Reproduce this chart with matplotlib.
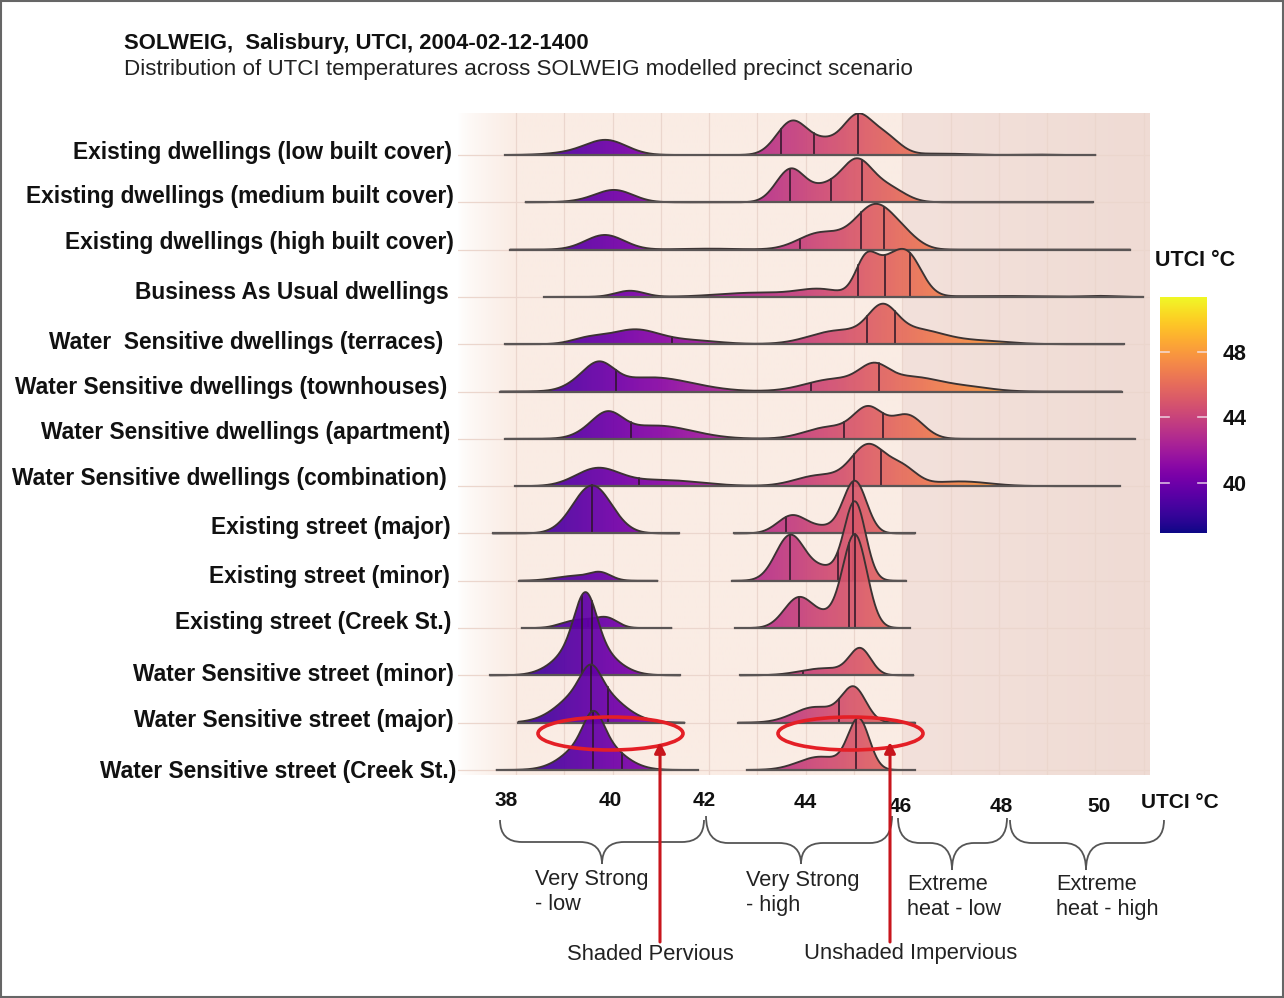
import numpy as np
import matplotlib
matplotlib.use("Agg")
import matplotlib.pyplot as plt
from matplotlib.patches import Polygon, Ellipse, PathPatch, Rectangle
from matplotlib.path import Path

# ---------------- data ----------------
scenarios = [
    "Existing dwellings (low built cover)",
    "Existing dwellings (medium built cover)",
    "Existing dwellings (high built cover)",
    "Business As Usual dwellings",
    "Water  Sensitive dwellings (terraces)",
    "Water Sensitive dwellings (townhouses)",
    "Water Sensitive dwellings (apartment)",
    "Water Sensitive dwellings (combination)",
    "Existing street (major)",
    "Existing street (minor)",
    "Existing street (Creek St.)",
    "Water Sensitive street (minor)",
    "Water Sensitive street (major)",
    "Water Sensitive street (Creek St.)",
]

# UTCI data range (min, max) of each modelled surface group, degC
data_ranges = [
    [(37.77, 50.00)],
    [(38.20, 49.95)],
    [(37.88, 50.72)],
    [(38.59, 50.99)],
    [(37.77, 50.59)],
    [(37.68, 50.54)],
    [(37.77, 50.81)],
    [(37.99, 50.50)],
    [(37.52, 41.38), (42.52, 46.26)],
    [(38.07, 40.93), (42.47, 46.08)],
    [(38.12, 41.22), (42.54, 46.16)],
    [(37.46, 41.40), (42.64, 46.23)],
    [(38.05, 41.49), (42.60, 46.26)],
    [(37.60, 41.77), (42.78, 46.26)],
]

# density modes of each ridge: (mode degC, scaled height, spread degC)
density_modes = [
    [(39.88, 0.30, 0.42), (39.2, 0.05, 0.5), (43.72, 0.71, 0.32), (44.4, 0.25, 0.3),
     (45.07, 0.80, 0.30), (45.65, 0.37, 0.30), (46.8, 0.03, 0.5), (48.7, 0.01, 0.3)],
    [(40.05, 0.25, 0.38), (39.5, 0.03, 0.4), (43.69, 0.70, 0.30), (44.4, 0.28, 0.3),
     (45.05, 0.85, 0.32), (45.7, 0.30, 0.35)],
    [(39.84, 0.31, 0.40), (42.0, 0.02, 0.6), (44.3, 0.35, 0.45), (45.45, 0.94, 0.42),
     (46.1, 0.15, 0.30)],
    [(40.36, 0.13, 0.30), (43.0, 0.09, 0.8), (44.3, 0.15, 0.45), (45.25, 0.77, 0.22),
     (45.65, 0.45, 0.25), (46.1, 0.89, 0.30), (48.0, 0.02, 1.0), (50.1, 0.02, 0.3)],
    [(39.5, 0.12, 0.35), (40.45, 0.30, 0.5), (41.6, 0.08, 0.6), (44.7, 0.29, 0.6),
     (45.59, 0.63, 0.30), (46.3, 0.30, 0.55), (47.6, 0.07, 0.6)],
    [(39.3, 0.12, 0.30), (39.73, 0.46, 0.30), (40.8, 0.30, 0.85), (44.6, 0.26, 0.6),
     (45.41, 0.38, 0.30), (46.2, 0.30, 0.6), (47.4, 0.08, 0.5)],
    [(39.5, 0.10, 0.30), (39.91, 0.43, 0.30), (40.9, 0.28, 0.75), (44.5, 0.25, 0.5),
     (45.3, 0.60, 0.30), (46.1, 0.50, 0.33)],
    [(39.68, 0.355, 0.45), (41.0, 0.13, 0.8), (44.3, 0.23, 0.5), (45.3, 0.84, 0.35),
     (46.0, 0.36, 0.30), (47.2, 0.10, 0.6)],
    [(39.58, 1.015, 0.40), (43.72, 0.38, 0.30), (44.4, 0.12, 0.30), (45.02, 1.10, 0.24)],
    [(39.2, 0.10, 0.40), (39.75, 0.15, 0.22), (43.68, 0.96, 0.30), (44.4, 0.25, 0.30),
     (45.02, 1.65, 0.22)],
    [(39.05, 0.07, 0.25), (39.45, 0.15, 0.30), (39.9, 0.18, 0.22), (43.85, 0.63, 0.30),
     (44.45, 0.20, 0.30), (45.02, 1.95, 0.25)],
    [(39.44, 1.00, 0.22), (39.44, 0.76, 0.50), (44.4, 0.15, 0.50), (45.13, 0.53, 0.22)],
    [(39.55, 0.43, 0.20), (39.55, 0.80, 0.55), (44.2, 0.33, 0.45), (45.0, 0.70, 0.25)],
    [(39.61, 0.55, 0.20), (39.61, 0.70, 0.50), (44.3, 0.28, 0.45), (45.1, 1.04, 0.22)],
]

# quantile lines drawn in each ridge, degC
quantile_lines = [
    [43.49, 44.17, 45.09],
    [43.67, 44.53, 45.16],
    [43.89, 45.15, 45.63],
    [45.09, 45.65, 46.17],
    [41.24, 45.27, 45.84],
    [40.07, 44.10, 45.52],
    [40.38, 44.80, 45.61],
    [40.54, 45.00, 45.56],
    [39.58, 43.60, 44.97],
    [43.68, 44.66, 44.98],
    [39.50, 43.87, 44.90, 45.02],
    [39.36, 39.57, 43.95],
    [39.56, 39.90, 44.68],
    [39.60, 40.20, 45.05],
]

utci_axis_labels = ["38", "40", "42", "44", "46", "48", "50"]
colorbar_ticks = [40, 44, 48]
category_bounds = [38, 46]          # very strong / extreme heat stress thresholds
category_names = ["Very Strong\n- low", "Very Strong\n- high",
                  "Extreme\nheat - low", "Extreme\nheat - high"]
surface_notes = ["Shaded Pervious", "Unshaded Impervious"]

# ---------------- layout / style ----------------
W, H = 1284, 998
fig = plt.figure(figsize=(W / 100, H / 100), dpi=100)
fig.patch.set_facecolor("white")

ARIAL = ["Liberation Sans", "DejaVu Sans"]
CB_MIN, CB_MAX = 36.9, 51.4
X0, X1 = 36.80, 51.13
Y0, Y1 = -0.106, 13.888
n = len(scenarios)

def fx(x):
    return x / W

def fy(y):
    return 1 - y / H

ax = fig.add_axes([fx(458), fy(775), (1150 - 458) / W, (775 - 113) / H])
ax.set_axis_off()

# background bands
bx = np.linspace(X0, X1, 1400)
peach = np.array([250, 236, 228]) / 255
dark = np.array([243, 225, 219]) / 255
dark_edge = np.array([239, 219, 212]) / 255
white = np.array([1.0, 1.0, 1.0])
bg = np.zeros((1, bx.size, 3))
for k, xv in enumerate(bx):
    if xv < category_bounds[0]:
        t = (xv - X0) / (category_bounds[0] - X0)
        t = min(max(t, 0), 1) ** 0.7
        c = white * (1 - t) + peach * t
    elif xv < category_bounds[1]:
        c = peach
    else:
        t = (xv - category_bounds[1]) / (X1 - category_bounds[1])
        c = dark * (1 - t) + dark_edge * t
    bg[0, k] = c
ax.imshow(bg, extent=[X0, X1, Y0, Y1], aspect="auto", origin="lower", zorder=0,
          interpolation="bilinear")
grid_c = "#EBD6CD"
for g in range(38, 52):
    ax.plot([g, g], [Y0, Y1], color=grid_c, lw=0.9, zorder=0.5)
for i in range(n):
    ax.plot([X0, X1], [n - 1 - i] * 2, color=grid_c, lw=0.9, zorder=0.5)


def density(x, modes):
    x = np.asarray(x, dtype=float)
    y = np.zeros_like(x)
    for c, h, s in modes:
        y = y + h * np.exp(-(x - c) ** 2 / (2 * s * s))
    return y


grad = np.linspace(CB_MIN, CB_MAX, 600).reshape(1, -1)
for i in range(n):
    base = n - 1 - i
    z = 2 + 3 * i
    for (a, b) in data_ranges[i]:
        xs = np.linspace(a, b, 900)
        ys = base + density(xs, density_modes[i])
        verts = [(a, base)] + list(zip(xs, ys)) + [(b, base)]
        poly = Polygon(verts, closed=True, facecolor="none", edgecolor="none",
                       transform=ax.transData)
        ax.add_patch(poly)
        im = ax.imshow(grad, extent=[CB_MIN, CB_MAX, base, ys.max() + 0.05],
                       aspect="auto", cmap="plasma", vmin=CB_MIN, vmax=CB_MAX,
                       origin="lower", zorder=z, alpha=0.93, interpolation="bilinear")
        im.set_clip_path(poly)
        ax.plot(xs, ys, color="#3b3333", lw=1.35, zorder=z + 1.5, solid_capstyle="round")
        ax.plot([a, b], [base, base], color="#5a5555", lw=1.6, zorder=z + 1.5)
        for q in quantile_lines[i]:
            if a <= q <= b:
                dq = float(density([q], density_modes[i])[0])
                ax.plot([q, q], [base, base + dq], color="#2a1526", lw=1.1, zorder=z + 1)

ax.set_xlim(X0, X1)
ax.set_ylim(Y0, Y1)

# ---------------- scenario labels ----------------
label_y = [152, 196.5, 242.5, 293, 342, 387.5, 432, 478.5, 527.5, 576, 623, 675, 721, 771.5]
label_right = [452, 454, 454, 449, 443, 447, 450, 447, 451, 450, 451, 454, 454, 456]
for i, s in enumerate(scenarios):
    fig.text(fx(label_right[i]), fy(label_y[i]), s, ha="right", va="center",
             fontsize=16.4, fontweight="bold", family=ARIAL, color="#111111")

# ---------------- titles ----------------
fig.text(fx(124), fy(43), "SOLWEIG,  Salisbury, UTCI, 2004-02-12-1400", ha="left",
         va="center", fontsize=15.9, fontweight="bold", family=ARIAL, color="#111111")
fig.text(fx(124), fy(69), "Distribution of UTCI temperatures across SOLWEIG modelled precinct scenario",
         ha="left", va="center", fontsize=16.1, family=ARIAL, color="#222222")

# ---------------- colour bar ----------------
cax = fig.add_axes([fx(1160), fy(533), 47 / W, 236 / H])
cgrad = np.linspace(CB_MIN, CB_MAX, 600).reshape(-1, 1)
cax.imshow(cgrad, extent=[0, 1, CB_MIN, CB_MAX], aspect="auto", cmap="plasma",
           vmin=CB_MIN, vmax=CB_MAX, origin="lower", interpolation="bilinear")
cax.set_xlim(0, 1)
cax.set_ylim(CB_MIN, CB_MAX)
for sp in cax.spines.values():
    sp.set_visible(False)
cax.set_xticks([])
cax.yaxis.tick_right()
cax.set_yticks(colorbar_ticks)
cax.set_yticklabels([str(t) for t in colorbar_ticks], fontsize=15.5, fontweight="bold",
                    family=ARIAL, color="#111111")
cax.tick_params(axis="y", length=0, pad=11)
for t in colorbar_ticks:
    cax.plot([0, 0.2], [t, t], color="#f4e6f0", lw=1.2, alpha=0.8)
    cax.plot([0.8, 1], [t, t], color="#f4e6f0", lw=1.2, alpha=0.8)
fig.text(fx(1195), fy(260), "UTCI °C", ha="center", va="center", fontsize=15.5,
         fontweight="bold", family=ARIAL, color="#111111")

# ---------------- annotation overlay ----------------
ov = fig.add_axes([0, 0, 1, 1])
ov.set_xlim(0, W)
ov.set_ylim(H, 0)
ov.set_axis_off()
ov.set_zorder(10)

tick_px = [(506, 800), (610, 800), (704, 800), (805, 802), (900, 806), (1001, 806), (1099, 806)]
for lab, (px, py) in zip(utci_axis_labels, tick_px):
    ov.text(px, py, lab, ha="center", va="center", fontsize=15, fontweight="bold",
            family=ARIAL, color="#111111")
ov.text(1180, 803, "UTCI °C", ha="center", va="center", fontsize=15, fontweight="bold",
        family=ARIAL, color="#111111")


def brace(x1, x2, xt, y_end, y_arm, y_tip, r=22):
    left = Path([(x1, y_end), (x1, y_arm), (x1 + r, y_arm), (xt - r, y_arm), (xt, y_arm), (xt, y_tip)],
                [Path.MOVETO, Path.CURVE3, Path.CURVE3, Path.LINETO, Path.CURVE3, Path.CURVE3])
    right = Path([(xt, y_tip), (xt, y_arm), (xt + r, y_arm), (x2 - r, y_arm), (x2, y_arm), (x2, y_end)],
                 [Path.MOVETO, Path.CURVE3, Path.CURVE3, Path.LINETO, Path.CURVE3, Path.CURVE3])
    for p in (left, right):
        ov.add_patch(PathPatch(p, facecolor="none", edgecolor="#555555", lw=1.3))


brace(500, 704, 602, 820, 842, 864)
brace(706, 892, 801, 816, 843, 864)
brace(898, 1007, 952, 818, 843, 870)
brace(1010, 1164, 1086, 820, 843, 870)

cat_pos = [(535, 892), (746, 893), (907, 897), (1056, 897)]
for name, (px, py) in zip(category_names, cat_pos):
    ov.text(px, py, name, ha="left", va="center", fontsize=15.7, family=ARIAL,
            color="#222222", linespacing=1.25)

# ellipses and arrows
for cx in (610.5, 850.5):
    ov.add_patch(Ellipse((cx, 733.5), 145, 33, facecolor="none", edgecolor="#e41f26", lw=2.6))
for axx in (660, 890):
    ov.annotate("", xy=(axx, 742), xytext=(axx, 942),
                arrowprops=dict(arrowstyle="-|>", color="#c8151c", lw=2.2,
                                mutation_scale=16, shrinkA=0, shrinkB=0))
ov.text(650, 954, surface_notes[0], ha="center", va="center", fontsize=15.8, family=ARIAL,
        color="#222222")
ov.text(911, 954, surface_notes[1], ha="center", va="center", fontsize=15.8, family=ARIAL,
        color="#222222")

ov.add_patch(Rectangle((1, 1), W - 2, H - 2, facecolor="none", edgecolor="#666666", lw=1.5))

fig.savefig("out.png", dpi=100)
